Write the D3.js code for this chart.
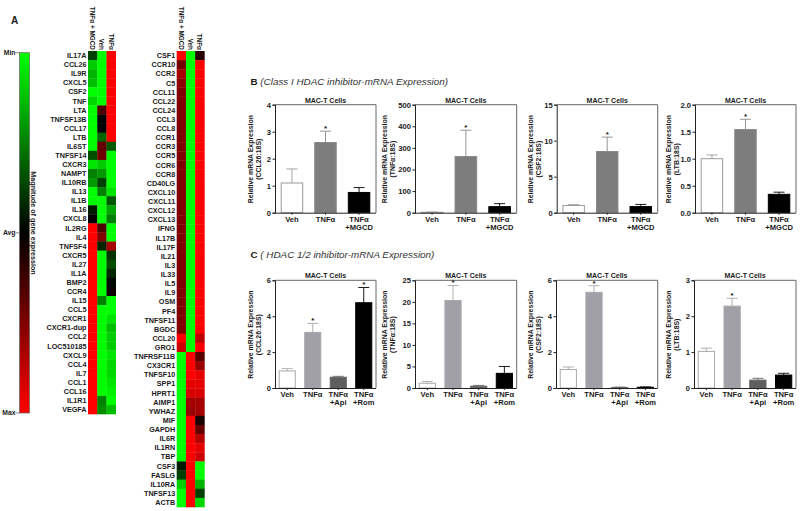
<!DOCTYPE html>
<html><head><meta charset="utf-8">
<script src="https://cdnjs.cloudflare.com/ajax/libs/d3/7.8.5/d3.min.js"></script>
<style>
html,body{margin:0;padding:0;background:#fff}
svg{display:block}
text{font-family:"Liberation Sans",Arial,sans-serif;font-weight:bold;fill:#1a1a1a}
.axis path,.axis line{stroke:#222;stroke-width:1}
.axis text{font-size:7.6px;font-weight:bold;font-family:"Liberation Sans",Arial,sans-serif;fill:#1a1a1a}
</style></head><body>
<svg id="c" width="800" height="511"></svg>
<script>
const heatColumns = ["TNFα + MGCD","Veh","TNFα"];
const leftGenes = ["IL17A","CCL26","IL9R","CXCL5","CSF2","TNF","LTA","TNFSF13B","CCL17","LTB","IL6ST","TNFSF14","CXCR3","NAMPT","IL10RB","IL13","IL1B","IL16","CXCL8","IL2RG","IL4","TNFSF4","CXCR5","IL27","IL1A","BMP2","CCR4","IL15","CCL5","CXCR1","CXCR1-dup","CCL2","LOC510185","CXCL9","CCL4","IL7","CCL1","CCL16","IL1R1","VEGFA"];
const leftValues = [[-.25,-1,1],[-.8,-1,1],[-.7,-1,1],[-.75,-1,1],[-1,-1,1],[-.85,-1,1],[-1,.3,1],[-1,0,1],[-1,0,1],[-1,-.4,1],[-1,.4,-.35],[-.3,.45,-1],[-.9,-.8,-1],[-.5,-.6,-1],[-.6,-.25,-1],[-1,-.5,-.9],[-1,-1,-.35],[-.1,-1,-.65],[0,-1,-.5],[1,.3,-1],[1,.5,-1],[1,-.15,.65],[1,-1,-.2],[1,-1,-.3],[1,-1,-.15],[1,-1,-.03],[1,-1,.05],[1,-.5,-1],[1,-1,-1],[1,-1,-.9],[1,-1,-.75],[1,-1,-.8],[1,-1,-.8],[1,-1,-.9],[1,-1,-.85],[1,-1,-.85],[1,-1,-.9],[1,-1,-.95],[1,-.5,-1],[1,-.55,-.75]];
const rightGenes = ["CSF1","CCR10","CCR2","C5","CCL11","CCL22","CCL24","CCL3","CCL8","CCR1","CCR3","CCR5","CCR6","CCR8","CD40LG","CXCL10","CXCL11","CXCL12","CXCL13","IFNG","IL17B","IL17F","IL21","IL3","IL33","IL5","IL9","OSM","PF4","TNFSF11","BGDC","CCL20","GRO1","TNFRSF11B","CX3CR1","TNFSF10","SPP1","HPRT1","AIMP1","YWHAZ","MIF","GAPDH","IL6R","IL1RN","TBP","CSF3","FASLG","IL10RA","TNFSF13","ACTB"];
const rightValues = [[1,-1,.15],[.45,-1,1],[.65,-1,1],[.55,-1,1],[.5,-1,1],[.5,-1,1],[.5,-1,1],[.5,-1,1],[.5,-1,1],[.5,-1,1],[.5,-1,1],[.5,-1,1],[.5,-1,1],[.5,-1,1],[.5,-1,1],[.5,-1,1],[.5,-1,1],[.5,-1,1],[.5,-1,1],[.5,-1,1],[.5,-1,1],[.5,-1,1],[.5,-1,1],[.5,-1,1],[.5,-1,1],[.5,-1,1],[.5,-1,1],[.5,-1,1],[.5,-1,1],[.5,-1,1],[.5,-1,1],[1,-1,.75],[.8,-1,1],[-1,1,.35],[-1,1,.6],[-1,1,.9],[-1,.9,.9],[-1,.85,.85],[-1,.65,.65],[-1,.6,.65],[-1,1,.1],[-1,1,.4],[-1,1,.7],[-1,1,.9],[-1,1,.8],[-.1,1,-1],[-.25,1,-1],[-.8,1,-.7],[-1,1,-.25],[-1,1,-.85]];
const legendTicks = [["Min",-1],["Avg",0],["Max",1]];

const groupsB = ["Veh","TNFα","TNFα|+MGCD"];
const groupsC = ["Veh","TNFα","TNFα|+Api","TNFα|+Rom"];
const coloursB = ["#ffffff","#7d7d7d","#000000"];
const coloursC = ["#ffffff","#a0a0a6","#5e5e5e","#000000"];
const strokesB = ["#9a9a9a","#8a8a8a","#000000"];
const strokesC = ["#aaaaaa","#a8a8ac","#666666","#000000"];

const b1Mean=[1.1,2.6,.75],  b1Err=[1.62,3.02,.93],  b1Ticks=[0,1,2,3,4],        b1Gene="(CCL26:18S)", b1Star=[1];
const b2Mean=[2,260,28],     b2Err=[3,382,42],       b2Ticks=[0,100,200,300,400,500], b2Gene="(TNFα:18S)", b2Star=[1];
const b3Mean=[1,8.5,.85],    b3Err=[1.12,10.5,1.15], b3Ticks=[0,5,10,15],          b3Gene="(CSF2:18S)", b3Star=[1];
const b4Mean=[1,1.54,.34],   b4Err=[1.07,1.73,.38],  b4Ticks=[0,.5,1,1.5,2],       b4Gene="(LTB:18S)",  b4Star=[1];
const c1Mean=[.95,3.1,.6,4.75], c1Err=[1.08,3.6,.65,5.6], c1Ticks=[0,2,4,6],       c1Gene="(CCL26:18S)", c1Star=[1,3];
const c2Mean=[1.1,20.3,.4,3.4], c2Err=[1.5,23.8,.6,5],   c2Ticks=[0,5,10,15,20,25], c2Gene="(TNFα:18S)", c2Star=[1];
const c3Mean=[1.03,5.33,.03,.04], c3Err=[1.17,5.7,.05,.06], c3Ticks=[0,2,4,6],     c3Gene="(CSF2:18S)", c3Star=[1];
const c4Mean=[1.02,2.28,.22,.36], c4Err=[1.11,2.5,.27,.41], c4Ticks=[0,1,2,3],     c4Gene="(LTB:18S)",  c4Star=[1];

const svg = d3.select("#c");
const heat = d3.scaleLinear().domain([-1,0,1]).range(["#00ff00","#000000","#ff0000"]);

function heatmap(genes, values, x0, x1, y0, y1){
  const x = d3.scaleBand().domain(heatColumns).range([x0,x1]);
  const y = d3.scaleBand().domain(genes).range([y0,y1]);
  const g = svg.append("g");
  genes.forEach((gene,i)=>{
    heatColumns.forEach((col,j)=>{
      g.append("rect").attr("x",x(col)).attr("y",y(gene)).attr("width",x.bandwidth()+.3).attr("height",y.bandwidth()+.3).attr("fill",heat(values[i][j]));
    });
    g.append("text").attr("x",x0-1.5).attr("y",y(gene)+y.bandwidth()/2).attr("dy","0.36em").attr("text-anchor","end").attr("font-size",7.2).text(gene);
  });
  heatColumns.forEach(col=>{
    g.append("text").attr("text-anchor","end").attr("font-size",6.4)
     .attr("transform",`translate(${x(col)+x.bandwidth()/2-2.4},${y0-1}) rotate(90)`).text(col);
  });
}
heatmap(leftGenes,leftValues,88,115.7,51,414);
heatmap(rightGenes,rightValues,176.7,204.4,51,507);

// colour legend
const legY = d3.scaleLinear().domain([-1,1]).range([52.7,413]);
const defs = svg.append("defs");
const grad = defs.append("linearGradient").attr("id","lg").attr("x1",0).attr("x2",0).attr("y1",0).attr("y2",1);
[-1,0,1].forEach((v,i)=>grad.append("stop").attr("offset",i/2).attr("stop-color",heat(v)));
svg.append("rect").attr("x",19.5).attr("y",legY(-1)).attr("width",10).attr("height",legY(1)-legY(-1)).attr("fill","url(#lg)").attr("stroke","#666").attr("stroke-width",.7);
legendTicks.forEach(([t,v])=>{
  svg.append("line").attr("x1",15.5).attr("x2",19.5).attr("y1",legY(v)).attr("y2",legY(v)).attr("stroke","#666").attr("stroke-width",.8);
  svg.append("text").attr("x",15.5).attr("y",legY(v)).attr("dy","0.36em").attr("text-anchor","end").attr("font-size",6.8).text(t);
});
svg.append("text").attr("transform","translate(30.8,223) rotate(90)").attr("text-anchor","middle").attr("font-size",7.2).text("Magnitude of gene expression");

// headings
svg.append("text").attr("x",11).attr("y",23.5).attr("font-size",10).text("A");
function heading(x,y,letter,txt){
  const t = svg.append("text").attr("x",x).attr("y",y).attr("font-size",9.85);
  t.append("tspan").text(letter+" ");
  t.append("tspan").attr("font-style","italic").attr("font-weight","normal").attr("fill","#333").text(txt);
}
heading(250.5,84.5,"B","(Class I HDAC inhibitor-mRNA Expression)");
heading(250.5,258,"C","( HDAC 1/2 inhibitor-mRNA Expression)");

function barPanel(o){
  const x = d3.scaleBand().domain(o.groups).range([o.x0,o.x1]).paddingInner(.33).paddingOuter(o.groups.length===3?.17:.145);
  const y = d3.scaleLinear().domain([0,o.ticks[o.ticks.length-1]]).range([o.y1,o.y0]);
  const g = svg.append("g");
  // frame
  g.append("path").attr("d",`M${o.x0},${o.y0}H${o.x1}V${o.y1}`).attr("fill","none").attr("stroke","#666").attr("stroke-width",1);
  o.groups.forEach((gr,i)=>{
    const bx=x(gr), bw=x.bandwidth(), cx=bx+bw/2, m=y(o.mean[i]), e=y(o.err[i]);
    const ec=o.strokes[i];
    g.append("line").attr("x1",cx).attr("x2",cx).attr("y1",m).attr("y2",e).attr("stroke",ec).attr("stroke-width",.9);
    g.append("line").attr("x1",cx-5.5).attr("x2",cx+5.5).attr("y1",e).attr("y2",e).attr("stroke",ec).attr("stroke-width",.9);
    g.append("rect").attr("x",bx+.5).attr("y",m).attr("width",bw-1).attr("height",Math.max(o.y1-m,.5))
      .attr("fill",o.colours[i]).attr("stroke",ec).attr("stroke-width",1);
    if(o.star.includes(i)) g.append("text").attr("x",cx).attr("y",e-2).attr("text-anchor","middle").attr("font-size",8).text("*").attr("dy","0.25em");
  });
  const ay=g.append("g").attr("class","axis").attr("transform",`translate(${o.x0},0)`)
    .call(d3.axisLeft(y).tickValues(o.ticks).tickSize(2.5).tickPadding(1.5).tickFormat(o.fmt||d3.format("d")));
  const ax=g.append("g").attr("class","axis").attr("transform",`translate(0,${o.y1})`)
    .call(d3.axisBottom(x).tickSize(2).tickPadding(1.5));
  ax.select(".domain").attr("d",`M${o.x0},0.5H${o.x1}`);
  ax.selectAll("g.tick text").each(function(d){
    const parts=d.split("|"), t=d3.select(this); t.text(null);
    parts.forEach((p,i)=>t.append("tspan").attr("x",0).attr("dy",i?"1.06em":"0.71em").text(p));
    t.attr("dy",null);
  });
  g.append("text").attr("x",(o.x0+o.x1)/2).attr("y",o.y0-2).attr("text-anchor","middle").attr("font-size",7).text("MAC-T Cells");
  const mid=(o.y0+o.y1)/2+.5;
  g.append("text").attr("transform",`translate(${o.lx},${mid}) rotate(-90)`).attr("text-anchor","middle").attr("font-size",6.9).text("Relative mRNA Expression");
  g.append("text").attr("transform",`translate(${o.lx+8},${mid}) rotate(-90)`).attr("text-anchor","middle").attr("font-size",6.9).text(o.gene);
}
const rowB={y0:104.7,y1:212.7,groups:groupsB,colours:coloursB,strokes:strokesB};
const rowC={y0:280.3,y1:388,groups:groupsC,colours:coloursC,strokes:strokesC};
barPanel({...rowB,x0:275,x1:376,lx:252.5,mean:b1Mean,err:b1Err,ticks:b1Ticks,gene:b1Gene,star:b1Star});
barPanel({...rowB,x0:415,x1:516.7,lx:387,mean:b2Mean,err:b2Err,ticks:b2Ticks,gene:b2Gene,star:b2Star});
barPanel({...rowB,x0:556.7,x1:657.7,lx:532.5,mean:b3Mean,err:b3Err,ticks:b3Ticks,gene:b3Gene,star:b3Star});
barPanel({...rowB,x0:695,x1:796,lx:670.5,mean:b4Mean,err:b4Err,ticks:b4Ticks,gene:b4Gene,star:b4Star,fmt:d3.format(".1f")});
barPanel({...rowC,x0:275,x1:376,lx:252.5,mean:c1Mean,err:c1Err,ticks:c1Ticks,gene:c1Gene,star:c1Star});
barPanel({...rowC,x0:415,x1:516.7,lx:387,mean:c2Mean,err:c2Err,ticks:c2Ticks,gene:c2Gene,star:c2Star});
barPanel({...rowC,x0:556,x1:657.7,lx:532.5,mean:c3Mean,err:c3Err,ticks:c3Ticks,gene:c3Gene,star:c3Star});
barPanel({...rowC,x0:694,x1:796,lx:670.5,mean:c4Mean,err:c4Err,ticks:c4Ticks,gene:c4Gene,star:c4Star});
</script></body></html>
